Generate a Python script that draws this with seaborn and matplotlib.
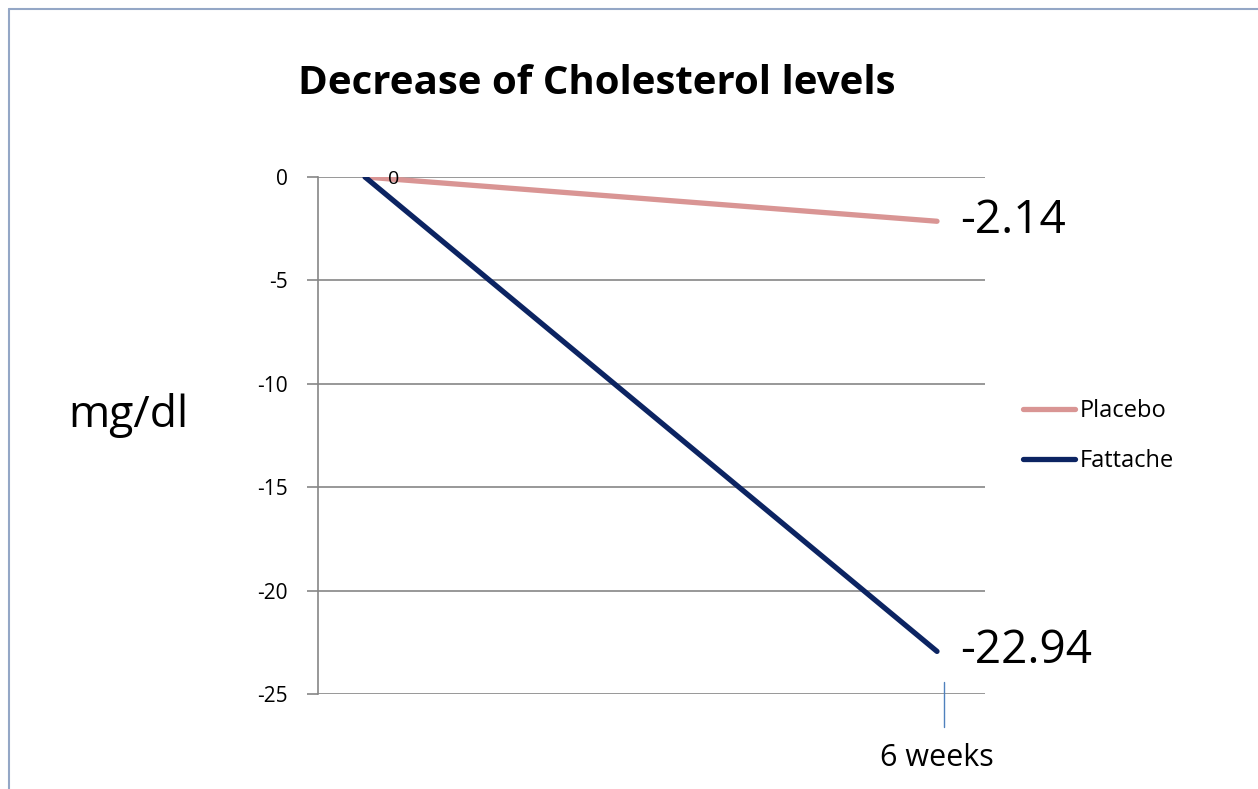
import matplotlib
matplotlib.use("Agg")
import matplotlib.pyplot as plt
import seaborn as sns
import pandas as pd
from matplotlib.lines import Line2D

timepoints = [0, 1]
tick_labels = ["", "6 weeks"]
placebo = [0, -2.14]
fattache = [0, -22.94]
series_names = ["Placebo", "Fattache"]
colors = {"Placebo": "#D99594", "Fattache": "#0C2462"}

df = pd.DataFrame({
    "t": timepoints * 2,
    "value": placebo + fattache,
    "group": [series_names[0]] * 2 + [series_names[1]] * 2,
})

sns.set_theme(style="white")
plt.rcParams['font.family'] = ['Open Sans', 'DejaVu Sans']
plt.rcParams['text.color'] = 'black'
plt.rcParams['ytick.color'] = '#868686'
plt.rcParams['ytick.labelcolor'] = 'black'

W, H = 1258, 789
fig = plt.figure(figsize=(W / 100, H / 100), dpi=100)
ax = fig.add_axes([318 / W, 1 - 694 / H, (985 - 318) / W, (694 - 177) / H])

sns.lineplot(data=df, x="t", y="value", hue="group", palette=colors,
             linewidth=3.8, ax=ax, legend=False, solid_capstyle="round")

ax.set_ylim(-25, 0)
x0, x1 = 365, 937
span = x1 - x0
ax.set_xlim(-(x0 - 318) / span, 1 + (985 - x1) / span)
ax.set_yticks([0, -5, -10, -15, -20, -25])
ax.set_yticklabels(["0", "-5", "-10", "-15", "-20", "-25"], fontsize=15,
                   color="black")
ax.yaxis.grid(True, color="#868686", linewidth=1.2)
ax.set_axisbelow(True)
ax.tick_params(axis="y", which="both", left=True, length=8, width=1.2,
               color="#868686", pad=14)
ax.set_xticks([])
for s in ["top", "right", "bottom"]:
    ax.spines[s].set_visible(False)
ax.spines["left"].set_color("#868686")
ax.spines["left"].set_linewidth(1.2)
ax.set_xlabel("")
ax.set_ylabel("")

# category label and its tick mark below the plot
ax.text(1.0, -28.1, tick_labels[1], ha="center", va="center", fontsize=22,
        color="black")
ax.plot([1.013, 1.013], [-24.4, -26.6], color="#4F81BD", linewidth=1,
        clip_on=False)

# data labels
ax.text(0.05, -0.1, "0", ha="center", va="center", fontsize=14, color="black")
ax.text(1.04, -2.14, "-2.14", ha="left", va="center", fontsize=33,
        color="black")
ax.text(1.04, -22.94, "-22.94", ha="left", va="center", fontsize=33,
        color="black")

fig.text(597 / W, 1 - 83 / H, "Decrease of Cholesterol levels",
         ha="center", va="center", fontsize=29, fontweight="bold",
         color="black")
fig.text(128 / W, 1 - 415 / H, "mg/dl", ha="center", va="center", fontsize=32,
         color="black")

handles = [Line2D([0], [0], color=colors[n], linewidth=3.8,
                  solid_capstyle="round") for n in series_names]
leg = fig.legend(handles, series_names, loc="center left",
                 bbox_to_anchor=(1023 / W, 1 - 436 / H), frameon=False,
                 fontsize=17, handlelength=2.2, handletextpad=0.2,
                 labelspacing=1.1, borderpad=0, borderaxespad=0)
for t in leg.get_texts():
    t.set_color("black")

# frame around chart area (left and top edges visible)
fig.add_artist(Line2D([9 / W, 9 / W], [0, 1 - 9 / H], color="#94A7C6",
                      linewidth=1.5, transform=fig.transFigure))
fig.add_artist(Line2D([9 / W, 1], [1 - 9 / H, 1 - 9 / H], color="#94A7C6",
                      linewidth=1.5, transform=fig.transFigure))

fig.savefig("out.png", dpi=100)
